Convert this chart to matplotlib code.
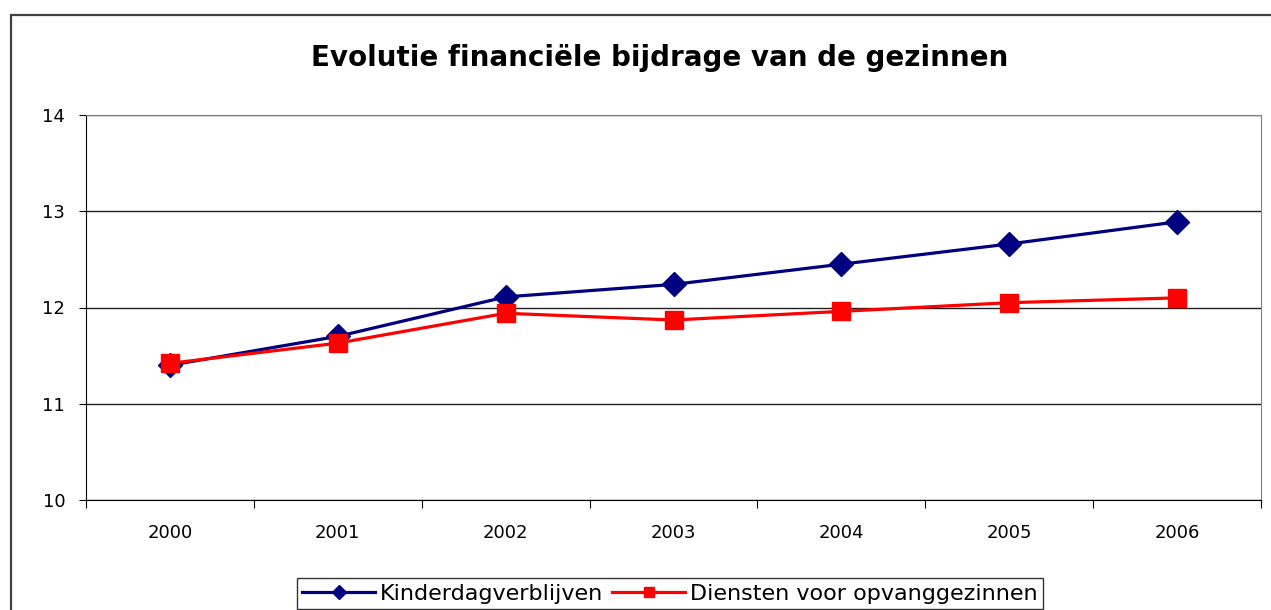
import numpy as np
import matplotlib.pyplot as plt
from matplotlib.patches import Rectangle

years = ['2000', '2001', '2002', '2003', '2004', '2005', '2006']
kinderdag = [11.40, 11.70, 12.11, 12.24, 12.45, 12.66, 12.89]
diensten = [11.42, 11.63, 11.94, 11.87, 11.96, 12.05, 12.10]

plt.rcParams['font.family'] = ['DejaVu Sans']

fig = plt.figure(figsize=(12.71, 6.10), dpi=100)
# outer chart border (cut off at right/bottom like the reference)
fig.patches.append(Rectangle((11/1271, -0.1), 1.2, 0.1 + 1 - 15/610,
                             transform=fig.transFigure, fill=False,
                             edgecolor='#404040', lw=1.6))

ax = fig.add_axes([86/1271, 110/610, 1175/1271, 385/610])
x = np.arange(len(years))
ax.plot(x, kinderdag, color='#000080', lw=2.3, marker='D', ms=12,
        label='Kinderdagverblijven', zorder=3)
ax.plot(x, diensten, color='#FF0000', lw=2.3, marker='s', ms=13,
        label='Diensten voor opvanggezinnen', zorder=4)

ax.set_xlim(-0.5, len(years) - 0.5)
ax.set_ylim(10, 14)
ax.set_yticks([10, 11, 12, 13, 14])
ax.set_xticks(x)
ax.set_xticklabels(years)
ax.set_xticks(np.arange(-0.5, len(years)), minor=True)
ax.tick_params(axis='x', which='major', length=0, pad=17, labelsize=13)
ax.tick_params(axis='x', which='minor', length=6, width=0.8, direction='out')
ax.tick_params(axis='y', length=5, width=0.8, pad=10, labelsize=13)
ax.yaxis.grid(True, color='#202020', lw=1.0)
ax.set_axisbelow(True)
for s in ['top', 'right']:
    ax.spines[s].set_color('#808080')
ax.spines['left'].set_color('black')
ax.spines['bottom'].set_color('black')

fig.text(0.519, 1 - 58/610, 'Evolutie financiële bijdrage van de gezinnen',
         ha='center', va='center', fontsize=20, fontweight='bold')

leg = fig.legend(loc='upper center', bbox_to_anchor=(0.527, 32/610), ncol=2,
                 frameon=True, fancybox=False, fontsize=16, handlelength=3.3,
                 handletextpad=0.2, columnspacing=0.4, borderpad=0.25,
                 borderaxespad=0, markerscale=0.6)
leg.get_frame().set_edgecolor('black')
leg.get_frame().set_linewidth(1.0)

plt.savefig('out.png', dpi=100)
